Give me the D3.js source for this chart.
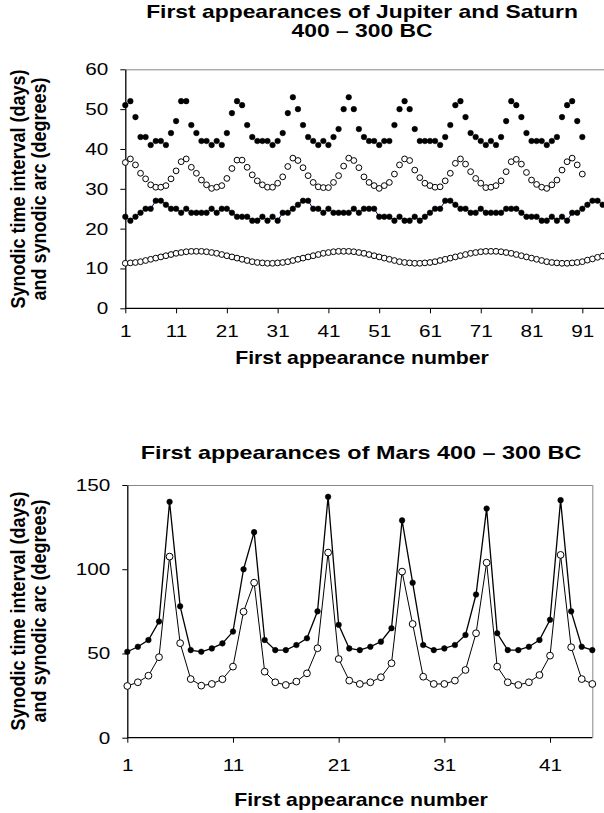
<!DOCTYPE html>
<html>
<head>
<meta charset="utf-8">
<script src="https://cdn.jsdelivr.net/npm/d3@7"></script>
<style>
  body { margin: 0; background: #fff; }
  svg { display: block; }
  text { font-family: "Liberation Sans", Arial, sans-serif; fill: #000; }
</style>
</head>
<body>
<div id="container"></div>
<script>
// Jupiter : intervalle synodique (jours) et arc synodique (degrés)
const jupDays = [51, 52, 48, 43, 43, 41, 42, 42, 41, 44, 47, 52, 52, 46, 44, 42, 42, 41, 42, 41, 44, 49, 52, 51, 46, 43, 42, 42, 42, 41, 42, 44,
  49, 53, 50, 46, 43, 42, 41, 42, 41, 43, 45, 50, 53, 50, 45, 43, 42, 42, 41, 42, 42, 46, 50, 52, 50, 45, 42, 42, 42, 42, 41, 43,
  46, 51, 52, 48, 44, 43, 42, 41, 42, 41, 43, 47, 52, 51, 48, 44, 42, 42, 42, 41, 42, 43, 48, 51, 52, 47, 43];
const jupArc = [36.6, 37.5, 36.0, 33.9, 32.5, 31.0, 30.4, 30.4, 30.8, 32.5, 34.5, 36.8, 37.5, 35.4, 33.9, 32.2, 31.0, 30.1, 30.4, 30.8, 32.6, 35.1, 37.2, 37.2, 35.4, 33.5, 32.0, 31.0, 30.4, 30.4, 31.4, 33.0,
  35.6, 37.7, 37.1, 35.3, 33.3, 31.6, 30.5, 30.3, 30.3, 31.6, 33.3, 35.7, 37.7, 37.1, 35.3, 33.0, 31.6, 30.8, 30.1, 30.8, 31.6, 33.7, 36.0, 37.5, 37.1, 34.7, 32.8, 31.4, 30.8, 30.4, 30.5, 32.0,
  33.9, 36.4, 37.5, 36.2, 34.3, 32.6, 31.4, 30.3, 30.4, 30.8, 32.0, 34.3, 36.8, 37.4, 36.2, 34.1, 32.2, 31.1, 30.4, 30.1, 31.0, 32.2, 34.7, 36.8, 37.7, 36.0, 33.7];

// Saturne
const satDays = [23, 22, 23, 24, 25, 25, 27, 27, 26, 25, 25, 24, 25, 24, 24, 24, 24, 25, 24, 25, 25, 24, 23, 23, 23, 22, 22, 23, 22, 23, 22, 24,
  24, 25, 26, 27, 27, 25, 25, 24, 25, 24, 24, 24, 24, 25, 24, 25, 25, 25, 23, 23, 23, 22, 23, 22, 22, 23, 22, 23, 24, 25, 25, 27,
  27, 26, 25, 25, 24, 24, 25, 24, 24, 24, 24, 25, 25, 25, 24, 23, 23, 23, 22, 22, 23, 22, 23, 22, 24, 24, 25, 26, 27, 27, 26];
const satArc = [11.3, 11.4, 11.5, 11.7, 12.0, 12.3, 12.6, 12.9, 13.2, 13.5, 13.8, 14.0, 14.2, 14.3, 14.3, 14.3, 14.2, 14.0, 13.8, 13.5, 13.2, 12.9, 12.6, 12.3, 12.0, 11.7, 11.5, 11.4, 11.3, 11.3, 11.4, 11.5,
  11.7, 12.0, 12.3, 12.6, 12.9, 13.2, 13.5, 13.8, 14.0, 14.2, 14.3, 14.3, 14.3, 14.2, 14.0, 13.8, 13.5, 13.2, 12.9, 12.6, 12.3, 12.0, 11.7, 11.5, 11.4, 11.3, 11.3, 11.4, 11.5, 11.7, 12.0, 12.3,
  12.6, 12.9, 13.2, 13.5, 13.8, 14.0, 14.2, 14.3, 14.3, 14.3, 14.2, 14.0, 13.8, 13.5, 13.2, 12.9, 12.6, 12.3, 12.0, 11.7, 11.5, 11.4, 11.3, 11.3, 11.4, 11.5, 11.7, 12.1, 12.4, 12.8, 13.1];

// Mars
const marsDays = [51, 54, 58, 69, 140, 78, 52, 51, 53, 56, 63, 100, 122, 58, 52, 52, 55, 59, 75, 143, 67, 53, 52, 54, 57, 65, 129, 92, 55, 52,
  53, 55, 61, 85, 136, 62, 52, 52, 54, 58, 70, 141, 75, 54, 52];
const marsArc = [30.7, 32.9, 36.8, 47.8, 107.5, 56.1, 34.8, 30.9, 31.9, 34.7, 42.2, 74.8, 92.0, 39.2, 32.9, 31.3, 33.3, 38.2, 53.1, 109.9, 46.7, 33.9, 31.9, 32.9, 35.9, 44.2, 98.6, 67.5, 36.2, 31.9,
  31.9, 33.9, 40.2, 62.0, 103.9, 42.2, 32.9, 31.3, 32.9, 37.2, 48.7, 108.5, 53.7, 34.8, 31.9];

// Graduations
const topYTicks = [0, 10, 20, 30, 40, 50, 60];
const topXTicks = [1, 11, 21, 31, 41, 51, 61, 71, 81, 91];
const botYTicks = [0, 50, 100, 150];
const botXTicks = [1, 11, 21, 31, 41];

const yTitle1 = "Synodic time interval (days)";
const yTitle2 = "and synodic arc (degrees)";
const xTitle = "First appearance number";

const SX = 1.22;      // étirement horizontal du texte
const FS = 17;        // graduations
const FT = 18;        // titres

const svg = d3.select("#container")
  .append("svg")
  .attr("width", 604)
  .attr("height", 813);

function label(x, y, txt, rotate, sx) {
  return svg.append("text")
    .attr("transform", `translate(${x},${y}) scale(${sx},1)` + (rotate ? " rotate(-90)" : ""))
    .attr("text-anchor", "middle")
    .style("font-size", FT + "px")
    .style("font-weight", "bold")
    .text(txt);
}

function panel(p) {
  const x = d3.scaleLinear().domain(p.xDomain).range([p.left, p.right]);
  const y = d3.scaleLinear().domain(p.yDomain).range([p.bottom, p.top]);

  // Cadre gris
  const g = svg.append("g");
  g.append("line")
    .attr("x1", p.left).attr("x2", p.frameRight)
    .attr("y1", p.top + 0.5).attr("y2", p.top + 0.5)
    .attr("stroke", "#888").attr("stroke-width", 1);
  if (p.rightBorder) {
    g.append("line")
      .attr("x1", p.right + 0.5).attr("x2", p.right + 0.5)
      .attr("y1", p.top).attr("y2", p.bottom)
      .attr("stroke", "#888").attr("stroke-width", 1);
  }

  // Axes
  const ax = svg.append("g")
    .attr("transform", `translate(0,${p.bottom})`)
    .call(d3.axisBottom(x).tickValues(p.xTicks).tickSize(5).tickPadding(p.xPad).tickSizeOuter(0));
  const ay = svg.append("g")
    .attr("transform", `translate(${p.left},0)`)
    .call(d3.axisLeft(y).tickValues(p.yTicks).tickSize(5).tickPadding(p.yPad).tickSizeOuter(0));
  [ax, ay].forEach(a => {
    a.select(".domain").attr("stroke", "#000").attr("stroke-width", 1.3);
    a.selectAll(".tick line").attr("stroke", "#000");
    a.selectAll(".tick text")
      .style("font-size", FS + "px")
      .style("font-family", "'Liberation Sans', Arial, sans-serif")
      .attr("fill", "#000")
      .attr("transform", `scale(${SX},1)`);
  });
  ax.select(".domain").attr("d", `M${p.left},0H${p.frameRight}`);

  // Séries
  p.series.forEach(s => {
    const pts = s.values.map((v, i) => [x(i + 1), y(v)]);
    if (s.line) {
      svg.append("path")
        .attr("d", d3.line()(pts))
        .attr("fill", "none")
        .attr("stroke", s.line)
        .attr("stroke-width", s.lineWidth);
    }
    svg.append("g").selectAll("circle")
      .data(pts)
      .enter()
      .append("circle")
      .attr("cx", d => d[0])
      .attr("cy", d => d[1])
      .attr("r", s.r)
      .attr("fill", s.filled ? "#000" : "#fff")
      .attr("stroke", "#000")
      .attr("stroke-width", s.filled ? 0.5 : 1);
  });

  // Textes
  p.titles.forEach(t => label(p.titleX, t.y, t.text, false, p.titleSX));
  label(p.titleX, p.xTitleY, xTitle, false, 1.18);
  label(18, p.yTitleY, yTitle1, true, 1.15).attr("dy", "0.35em");
  label(39, p.yTitleY, yTitle2, true, 1.15).attr("dy", "0.35em");
}

// Graphique du haut : Jupiter et Saturne
panel({
  left: 125.3, right: 125.3 + 95 * 5.078, frameRight: 604,
  top: 69.3, bottom: 308.3,
  xDomain: [1, 96], yDomain: [0, 60],
  xTicks: topXTicks, yTicks: topYTicks, xPad: 12, yPad: 9,
  rightBorder: false,
  series: [
    { values: jupDays, filled: true, r: 2.8 },
    { values: jupArc, filled: false, r: 2.9 },
    { values: satDays, filled: true, r: 2.8, line: "#000060", lineWidth: 1 },
    { values: satArc, filled: false, r: 2.9 }
  ],
  titleX: 362, titleSX: 1.27,
  titles: [
    { y: 18, text: "First appearances of Jupiter and Saturn" },
    { y: 37, text: "400 – 300 BC" }
  ],
  xTitleY: 364,
  yTitleY: 189
});

// Graphique du bas : Mars
panel({
  left: 127.3, right: 592.3, frameRight: 592.3,
  top: 485, bottom: 737.7,
  xDomain: [1, 45], yDomain: [0, 150],
  xTicks: botXTicks, yTicks: botYTicks, xPad: 16, yPad: 9,
  rightBorder: true,
  series: [
    { values: marsDays, filled: true, r: 2.8, line: "#000", lineWidth: 1.3 },
    { values: marsArc, filled: false, r: 3.4, line: "#000", lineWidth: 1 }
  ],
  titleX: 361, titleSX: 1.3,
  titles: [
    { y: 459, text: "First appearances of Mars 400 – 300 BC" }
  ],
  xTitleY: 806,
  yTitleY: 611
});
</script>
</body>
</html>
